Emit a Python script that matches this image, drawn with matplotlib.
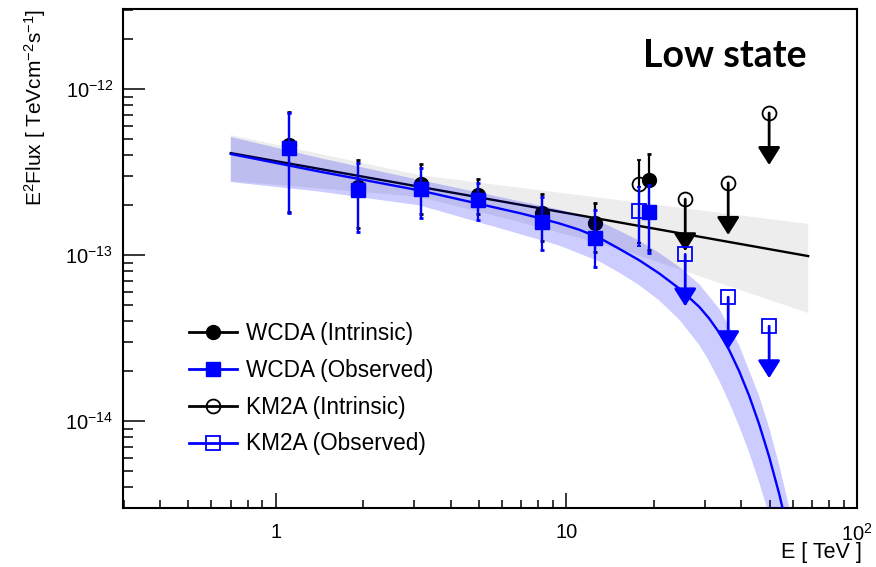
import numpy as np
import matplotlib
matplotlib.use('Agg')
import matplotlib.pyplot as plt
from matplotlib.ticker import FixedLocator, LogLocator, FuncFormatter, NullFormatter
from matplotlib.lines import Line2D

plt.rcParams['font.family'] = ['Liberation Sans', 'DejaVu Sans']
plt.rcParams['mathtext.fontset'] = 'custom'
plt.rcParams['mathtext.rm'] = 'Liberation Sans'
plt.rcParams['mathtext.it'] = 'Liberation Sans:italic'
plt.rcParams['mathtext.bf'] = 'Liberation Sans:bold'

# ---------------- data ----------------
wcda_E = [1.108, 1.913, 3.151, 4.945, 8.27, 12.58, 19.29]
wcda_int_F = [4.60e-13, 2.57e-13, 2.68e-13, 2.30e-13, 1.79e-13, 1.56e-13, 2.83e-13]
wcda_int_hi = [7.27e-13, 3.74e-13, 3.53e-13, 2.87e-13, 2.33e-13, 2.06e-13, 4.06e-13]
wcda_int_lo = [1.82e-13, 1.46e-13, 1.77e-13, 1.77e-13, 1.21e-13, 1.04e-13, 1.07e-13]
wcda_obs_F = [4.41e-13, 2.46e-13, 2.50e-13, 2.14e-13, 1.58e-13, 1.27e-13, 1.82e-13]
wcda_obs_hi = [7.17e-13, 3.58e-13, 3.34e-13, 2.72e-13, 2.24e-13, 1.87e-13, 2.64e-13]
wcda_obs_lo = [1.79e-13, 1.38e-13, 1.67e-13, 1.63e-13, 1.07e-13, 8.47e-14, 1.03e-13]

km2a_E = [17.82]
km2a_int_F = [2.68e-13]
km2a_int_hi = [3.74e-13]
km2a_int_lo = [1.18e-13]
km2a_obs_F = [1.84e-13]
km2a_obs_hi = [2.57e-13]
km2a_obs_lo = [1.13e-13]

km2a_ul_E = [25.64, 36.04, 49.85]
km2a_int_ul = [2.17e-13, 2.72e-13, 7.17e-13]
km2a_obs_ul = [1.01e-13, 5.58e-14, 3.73e-14]

# intrinsic power-law fit and its band
pl_E = [0.70, 67.9]
pl_F = [4.11e-13, 9.86e-14]
pl_up_E = [0.70, 3.126, 15.21, 67.9]
pl_up_F = [5.28e-13, 3.03e-13, 2.14e-13, 1.54e-13]
pl_lo_E = [0.70, 3.126, 6.895, 15.21, 23.13, 63.19, 67.9]
pl_lo_F = [2.79e-13, 2.24e-13, 1.58e-13, 1.09e-13, 8.47e-14, 4.67e-14, 4.48e-14]

# observed (absorbed) fit and its band
obs_E = [0.70, 1.416, 3.126, 6.895, 8.08, 9.46, 11.08, 12.98, 15.21, 17.82, 20.87,
         24.45, 28.64, 31.00, 33.56, 36.32, 39.31, 42.56, 46.05, 49.85, 53.95, 58.40]
obs_F = [4.06e-13, 3.18e-13, 2.45e-13, 1.79e-13, 1.67e-13, 1.55e-13, 1.42e-13, 1.27e-13,
         1.09e-13, 9.30e-14, 7.75e-14, 6.29e-14, 4.88e-14, 4.15e-14, 3.41e-14, 2.68e-14,
         2.00e-14, 1.42e-14, 9.59e-15, 6.11e-15, 3.66e-15, 2.04e-15]
obs_up_E = [0.70, 1.416, 3.126, 6.895, 9.46, 12.98, 15.21, 17.82, 20.87, 24.45, 28.64,
            33.56, 39.31, 46.05, 49.85, 53.95, 58.40, 63.19]
obs_up_F = [5.14e-13, 3.84e-13, 2.83e-13, 2.11e-13, 1.88e-13, 1.60e-13, 1.40e-13, 1.22e-13,
            1.03e-13, 8.48e-14, 6.68e-14, 4.75e-14, 2.87e-14, 1.42e-14, 9.14e-15, 5.47e-15,
            3.05e-15, 1.59e-15]
obs_lo_E = [0.70, 1.416, 3.126, 6.895, 9.46, 12.98, 15.21, 17.82, 20.87, 24.45, 28.64,
            31.00, 33.56, 36.32, 39.31, 42.56, 46.05, 49.85]
obs_lo_F = [2.75e-13, 2.41e-13, 1.99e-13, 1.34e-13, 1.14e-13, 9.15e-14, 7.83e-14, 6.58e-14,
            5.33e-14, 4.09e-14, 2.88e-14, 2.29e-14, 1.75e-14, 1.30e-14, 9.33e-15, 6.46e-15,
            4.29e-15, 2.73e-15]

x_ticks = [1, 10, 100]
x_tick_labels = ['1', '10', r'$10^{2}$']
y_ticks = [1e-14, 1e-13, 1e-12]
y_tick_labels = [r'$10^{-14}$', r'$10^{-13}$', r'$10^{-12}$']
legend_labels = ['WCDA (Intrinsic)', 'WCDA (Observed)', 'KM2A (Intrinsic)', 'KM2A (Observed)']
title_text = 'Low state'

# ---------------- figure ----------------
W, H = 876, 567
fig = plt.figure(figsize=(W / 100, H / 100), dpi=100)
ax = fig.add_axes([123 / W, 1 - 508 / H, (857 - 123) / W, (508 - 9) / H])
ax.set_xscale('log')
ax.set_yscale('log')
ax.set_xlim(0.298, 100)
ax.set_ylim(3.0e-15, 3.03e-12)

BLUE = '#0000ff'

# intrinsic band + line
ax.fill(np.concatenate([pl_up_E, pl_lo_E[::-1]]), np.concatenate([pl_up_F, pl_lo_F[::-1]]),
        color='black', alpha=0.07, lw=0, zorder=1)
ax.plot(pl_E, pl_F, color='black', lw=1.7, zorder=2)


def err(F, lo, hi):
    F, lo, hi = map(np.asarray, (F, lo, hi))
    return [F - lo, hi - F]


# intrinsic points
ax.errorbar(wcda_E, wcda_int_F, yerr=err(wcda_int_F, wcda_int_lo, wcda_int_hi), fmt='o',
            color='black', ms=10, elinewidth=1.6, capsize=1.5, capthick=2, zorder=3)
ax.errorbar(km2a_E, km2a_int_F, yerr=err(km2a_int_F, km2a_int_lo, km2a_int_hi), fmt='o',
            color='black', mfc='none', mec='black', mew=1.3, ms=10, elinewidth=1.6,
            capsize=1.5, capthick=2, zorder=3)
ax.plot(km2a_ul_E, km2a_int_ul, 'o', mfc='none', mec='black', mew=1.3, ms=10, zorder=3)

arrow_style = '-|>,head_width=0.34,head_length=0.54'
for e, f in zip(km2a_ul_E, km2a_int_ul):
    ax.annotate('', xy=(e, f * 0.486), xytext=(e, f),
                arrowprops=dict(arrowstyle=arrow_style, color='black', lw=2,
                                mutation_scale=20, shrinkA=0, shrinkB=0), zorder=3)

# observed band + line
ax.fill(np.concatenate([obs_up_E, obs_lo_E[::-1]]), np.concatenate([obs_up_F, obs_lo_F[::-1]]),
        color=BLUE, alpha=0.2, lw=0, zorder=4)
ax.plot(obs_E, obs_F, color=BLUE, lw=1.7, zorder=5)

# observed points
ax.errorbar(wcda_E, wcda_obs_F, yerr=err(wcda_obs_F, wcda_obs_lo, wcda_obs_hi), fmt='s',
            color=BLUE, ms=10.5, elinewidth=1.6, capsize=1.5, capthick=2, zorder=6)
ax.errorbar(km2a_E, km2a_obs_F, yerr=err(km2a_obs_F, km2a_obs_lo, km2a_obs_hi), fmt='s',
            color=BLUE, mfc='none', mec=BLUE, mew=1.3, ms=10.5, elinewidth=1.6,
            capsize=1.5, capthick=2, zorder=6)
ax.plot(km2a_ul_E, km2a_obs_ul, 's', mfc='none', mec=BLUE, mew=1.3, ms=10.5, zorder=6)
for e, f in zip(km2a_ul_E, km2a_obs_ul):
    ax.annotate('', xy=(e, f * 0.486), xytext=(e, f),
                arrowprops=dict(arrowstyle=arrow_style, color=BLUE, lw=2,
                                mutation_scale=20, shrinkA=0, shrinkB=0), zorder=6)

# ---------------- axes styling ----------------
for s in ax.spines.values():
    s.set_linewidth(1.5)
ax.tick_params(which='both', direction='in', top=False, right=False, width=1.1)
ax.tick_params(axis='y', which='major', length=15.5, pad=7, labelsize=14.5)
ax.tick_params(axis='y', which='minor', length=7.2)
ax.tick_params(axis='x', which='major', length=10.8, pad=11, labelsize=14.5)
ax.tick_params(axis='x', which='minor', length=5.8)

ax.xaxis.set_major_locator(FixedLocator(x_ticks))
ax.xaxis.set_major_formatter(FuncFormatter(lambda v, p: x_tick_labels[p] if p is not None and p < len(x_tick_labels) else ''))
ax.set_xticks(x_ticks, x_tick_labels)
ax.xaxis.set_minor_locator(LogLocator(base=10, subs=np.arange(2, 10), numticks=20))
ax.xaxis.set_minor_formatter(NullFormatter())
ax.set_yticks(y_ticks, y_tick_labels)
ax.yaxis.set_minor_locator(LogLocator(base=10, subs=np.arange(2, 10), numticks=20))
ax.yaxis.set_minor_formatter(NullFormatter())
ax.set_xlim(0.298, 100)
ax.set_ylim(3.0e-15, 3.03e-12)

ax.set_ylabel(r'E$^{2}$Flux [ TeVcm$^{-2}$s$^{-1}$]', fontsize=15, loc='top')
ax.yaxis.set_label_coords(-0.102, 1.0)
ax.set_xlabel('E [ TeV ]', fontsize=15.5, loc='right')
ax.xaxis.set_label_coords(1.0068, -0.068)

# title
fig.text(643 / W, 1 - 67 / H, title_text, fontsize=27, fontweight='bold',
         family=['Lato', 'DejaVu Sans'], ha='left', va='baseline')

# legend
handles = [
    Line2D([], [], color='black', lw=2, marker='o', ms=10),
    Line2D([], [], color=BLUE, lw=2, marker='s', ms=10.5),
    Line2D([], [], color='black', lw=2, marker='o', ms=10, mfc='none', mew=1.3),
    Line2D([], [], color=BLUE, lw=2, marker='s', ms=10.5, mfc='none', mew=1.3),
]
fig.legend(handles, legend_labels, loc='upper left', bbox_to_anchor=(189 / W, 1 - 322 / H),
           frameon=False, fontsize=16.3, handlelength=2.1, handletextpad=0.42,
           labelspacing=0.61, borderpad=0, borderaxespad=0)

fig.savefig('out.png', dpi=100)
